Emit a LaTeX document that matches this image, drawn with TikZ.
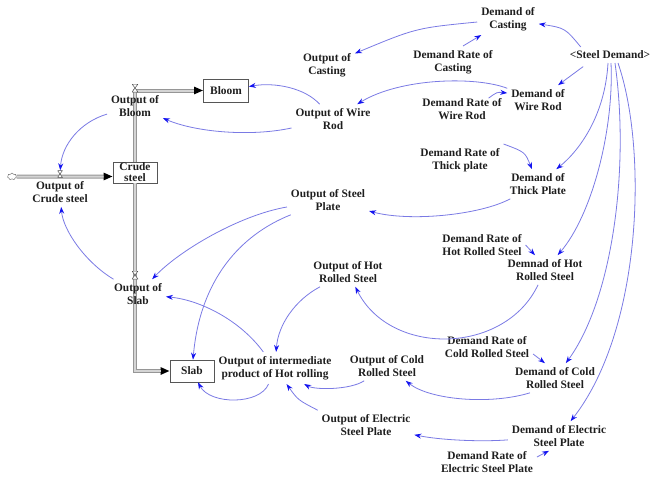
\documentclass[tikz,border=0pt]{standalone}
\usepackage{fontspec}
\setmainfont{Liberation Serif}
\usetikzlibrary{arrows.meta,shapes.symbols}
\definecolor{linkcol}{RGB}{122,122,228}
\definecolor{tipcol}{RGB}{20,20,240}
\definecolor{inkcol}{RGB}{30,30,30}
\definecolor{pipeedge}{RGB}{150,150,150}
\definecolor{pipefill}{RGB}{212,212,212}

\begin{document}
\begin{tikzpicture}[x=1pt,y=-1pt,
  lbl/.style={font=\fontsize{11.4}{13.5}\selectfont\bfseries, text=inkcol,
    align=center, inner sep=1pt, outer sep=3pt},
  stock/.style={draw=inkcol!75, line width=0.6pt,
    font=\fontsize{11.4}{11}\selectfont\bfseries, text=inkcol, align=center,
    inner sep=1pt, outer sep=0.3pt},
  link/.style={draw=linkcol, line width=0.8pt,
    -{Stealth[length=7pt,width=5pt,color=tipcol]}},
  pipe/.style={draw=pipeedge, line width=4pt},
  pipecore/.style={draw=pipefill, line width=2pt},
  valve/.style={inner sep=0pt, minimum width=6pt, minimum height=8pt,
    path picture={\draw[line width=0.5pt, draw=inkcol!80, fill=white]
      (path picture bounding box.north west) -- (path picture bounding box.north east)
      -- (path picture bounding box.south west) -- (path picture bounding box.south east)
      -- cycle;}},
]
\useasboundingbox (0,0) rectangle (650,479);

% stocks
\node[stock, minimum width=45pt, minimum height=23pt] (bloom) at (226,90.5) {Bloom};
\node[stock, minimum width=44pt, minimum height=21pt] (crude) at (135,172.5) {Crude\\steel};
\node[stock, minimum width=44pt, minimum height=22pt] (slab) at (192,371) {Slab};
\node[cloud, cloud puffs=7, cloud ignores aspect, draw=inkcol!70, line width=0.4pt,
      minimum width=9pt, minimum height=7pt, inner sep=0pt] (src) at (12,176.5) {};

% flow pipes
\draw[pipe, -{Triangle[length=9pt,width=7pt,color=black]}] (src) -- (src -| crude.west);
\draw[pipecore, shorten >=9pt] (src) -- (src -| crude.west);
\draw[pipe, line join=miter, -{Triangle[length=9pt,width=7pt,color=black]}] (crude.north) |- (bloom.west);
\draw[pipecore, line join=miter, shorten >=9pt] (crude.north) |- (bloom.west);
\draw[pipe, line join=miter, -{Triangle[length=9pt,width=7pt,color=black]}] (crude.south) |- (slab.west);
\draw[pipecore, line join=miter, shorten >=9pt] (crude.south) |- (slab.west);

% valves
\node[valve, minimum width=5pt, minimum height=7pt] (vcrude) at (60,174) {};
\node[valve] (vbloom) at (135,88) {};
\node[valve] (vslab) at (135,275) {};

% variables
\node[lbl] (dcast) at (508,19) {Demand of\\Casting};
\node[lbl] (sd) at (610,55) {<Steel Demand>};
\node[lbl] (ocast) at (327,65) {Output of\\Casting};
\node[lbl] (drcast) at (453,62) {Demand Rate of\\Casting};
\node[lbl] (dwire) at (538,100) {Demand of\\Wire Rod};
\node[lbl] (drwire) at (462,109) {Demand Rate of\\Wire Rod};
\node[lbl] (owire) at (333,119) {Output of Wire\\Rod};
\node[lbl] (drthick) at (460,160) {Demand Rate of\\Thick plate};
\node[lbl] (dthick) at (538,184) {Demand of\\Thick Plate};
\node[lbl] (oplate) at (328,200) {Output of Steel\\Plate};
\node[lbl] (drhot) at (482,245) {Demand Rate of\\Hot Rolled Steel};
\node[lbl] (dhot) at (545,270) {Demnad of Hot\\Rolled Steel};
\node[lbl] (ohot) at (348,272) {Output of Hot\\Rolled Steel};
\node[lbl] (drcold) at (487,347) {Demand Rate of\\Cold Rolled Steel};
\node[lbl] (dcold) at (555,378) {Demand of Cold\\Rolled Steel};
\node[lbl] (ocold) at (387,366) {Output of Cold\\Rolled Steel};
\node[lbl] (oint) at (275,368) {Output of intermediate\\product of Hot rolling};
\node[lbl] (oelec) at (366,425) {Output of Electric\\Steel Plate};
\node[lbl] (delec) at (559,436) {Demand of Electric\\Steel Plate};
\node[lbl] (drelec) at (487,462) {Demand Rate of\\Electric Steel Plate};
\node[lbl] (oslab) at (138,294) {Output of\\Slab};
\node[lbl] (obloom) at (135,106) {Output of\\Bloom};
\node[lbl] (ocrude) at (60,192) {Output of\\Crude steel};

% causal links
\draw[link] ([xshift=15pt]sd.north west) .. controls (565,28) .. (dcast);
\draw[link] (dcast) .. controls (416,28) .. (ocast);
\draw[link] ([xshift=10pt]drcast.north) -- (dcast);
\draw[link, shorten <=6pt] ([xshift=-22pt]sd.south) -- (dwire);
\draw[link] ([xshift=-17pt,yshift=-4pt]drwire.north east) .. controls (497,92) .. ([yshift=7pt]dwire.west);
\draw[link] (dwire) .. controls (475,76) and (400,78) .. (owire);
\draw[link] (owire) .. controls (305,88) and (275,82) .. (bloom);
\draw[link] (owire) .. controls (250,137) and (195,132) .. (obloom);
\draw[link] (obloom) .. controls (80,122) and (62,145) .. (vcrude);
\draw[link] (oslab) .. controls (85,262) and (63,230) .. (ocrude);
\draw[link] (oplate) .. controls (240,215) and (180,250) .. (oslab);
\draw[link] (oplate) .. controls (240,235) and (200,280) .. (slab);
\draw[link] (dthick) .. controls (480,215) and (410,222) .. (oplate);
\draw[link] (drthick.north east) .. controls (525,152) .. (dthick);
\draw[link] ([xshift=-2pt]sd.south) .. controls (605,115) and (580,150) .. (dthick);
\draw[link] (drhot.east) -- ([xshift=-10pt]dhot.north);
\draw[link] ([xshift=1pt]sd.south) .. controls (614,130) and (592,215) .. (dhot);
\draw[link] (dhot) .. controls (505,355) and (390,357) .. (ohot);
\draw[link] (ohot) .. controls (295,300) and (278,325) .. (oint);
\draw[link] (oint) .. controls (240,320) and (200,300) .. (oslab);
\draw[link] (oint) .. controls (260,405) and (210,405) .. (slab);
\draw[link] (ocold) .. controls (350,390) and (315,390) .. (oint);
\draw[link] (oelec.north west) .. controls (298,400) .. (oint);
\draw[link] ([xshift=-25pt]dcold.south) .. controls (490,405) and (430,400) .. (ocold);
\draw[link] ([yshift=-7pt]drcold.east) -- ([xshift=-10pt]dcold.north);
\draw[link] ([xshift=5pt]sd.south) .. controls (630,170) and (612,300) .. (dcold);
\draw[link] ([xshift=8pt]sd.south) .. controls (648,150) and (642,330) .. (delec);
\draw[link] (delec) .. controls (480,442) and (440,440) .. (oelec);
\draw[link] ([yshift=5pt]drelec.east) -- ([xshift=-10pt]delec.south);
\end{tikzpicture}
\end{document}
